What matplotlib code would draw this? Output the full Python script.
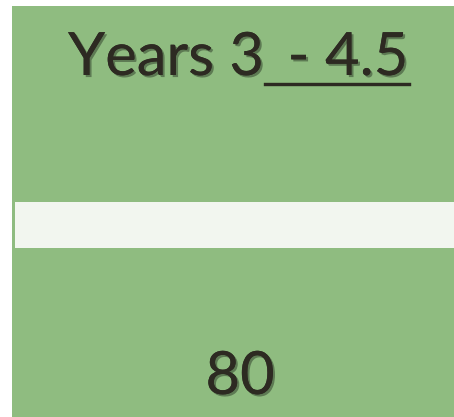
import matplotlib.pyplot as plt
import matplotlib.patheffects as pe
from matplotlib.lines import Line2D

# data
title_left = "Years 3"
title_right = "- 4.5"
value = 80
bar_max = 80

W, H = 454, 417
fig = plt.figure(figsize=(W / 100, H / 100), dpi=100)
fig.patch.set_facecolor("white")

# green panel
ax = fig.add_axes([12 / W, 0, (W - 12) / W, (H - 6) / H])
ax.set_facecolor("#8fbc80")
ax.barh([0], [value], height=1.0, color="#f2f6ef", left=0)
ax.set_xlim(-0.55, bar_max)
ax.set_ylim(-4.17, 4.76)
for s in ax.spines.values():
    s.set_visible(False)
ax.set_xticks([])
ax.set_yticks([])

shadow = [pe.withSimplePatchShadow(offset=(1.5, -1.5), shadow_rgbFace="black", alpha=0.35),
          pe.Normal()]
txt_color = "#2d2a22"
fs = 43

fig.text(166 / W, 1 - 75 / H, title_left, ha="center", va="baseline",
         fontsize=fs, family="Lato", color=txt_color, path_effects=shadow)
fig.text(348 / W, 1 - 75 / H, title_right, ha="center", va="baseline",
         fontsize=fs, family="Lato", color=txt_color, path_effects=shadow)
# underline
fig.add_artist(Line2D([265 / W, 409 / W], [1 - 83.5 / H, 1 - 83.5 / H],
                      color=txt_color, lw=2.3, transform=fig.transFigure,
                      path_effects=shadow))

fig.text(240 / W, 1 - 394 / H, str(value), ha="center", va="baseline",
         fontsize=fs, family="Lato", color=txt_color, path_effects=shadow)

fig.savefig("out.png", dpi=100)
